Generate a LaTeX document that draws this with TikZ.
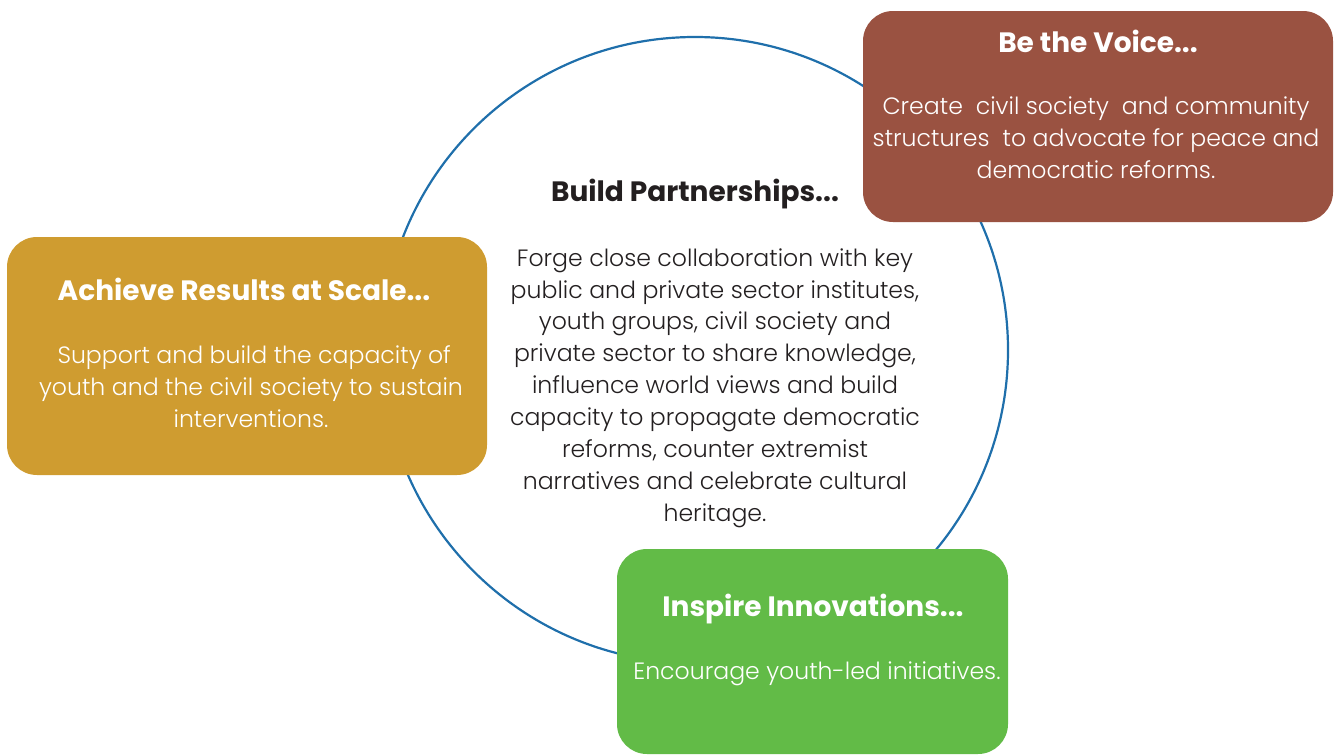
\documentclass[tikz,border=0pt]{standalone}
\usepackage{fontspec}
\setmainfont{Poppins}
\newfontfamily\bodyfont{Poppins}[UprightFont=* Light]
\definecolor{ringblue}{RGB}{31,111,171}
\definecolor{voicebrown}{RGB}{154,82,65}
\definecolor{scalegold}{RGB}{207,156,48}
\definecolor{innogreen}{RGB}{98,187,71}
\definecolor{inkdark}{RGB}{35,31,32}
\begin{document}
\begin{tikzpicture}[x=1pt,y=-1pt,
  card/.style={rounded corners=30pt, inner sep=0pt, draw=none},
  ttl/.style={font=\fontsize{28}{33}\selectfont\bfseries, inner sep=0pt},
  bodytxt/.style={font=\bodyfont\fontsize{23.6}{31.9}\selectfont, align=center, inner sep=0pt}]
\useasboundingbox (0,0) rectangle (1338,755);
\node[draw=ringblue, line width=2.2pt, circle, minimum size=626pt, inner sep=0pt] (ring) at (695,350) {};
\node[card, fill=voicebrown, minimum width=470pt, minimum height=211pt] (voice) at (1098,116.5) {};
\node[card, fill=scalegold, minimum width=480pt, minimum height=238pt] (scale) at (247,356) {};
\node[card, fill=innogreen, minimum width=391pt, minimum height=205pt] (inno) at (812.5,651.5) {};
\node[ttl, text=inkdark] (bpt) at (695,194) {Build Partnerships...};
\node[bodytxt, text=inkdark] (bpb) at (715,388) {Forge close collaboration with key\\public and private sector institutes,\\youth groups, civil society and\\private sector to share knowledge,\\influence world views and build\\capacity to propagate democratic\\reforms, counter extremist\\narratives and celebrate cultural\\heritage.};
\node[ttl, text=white] (vt) at (1098,41) {Be the Voice...};
\node[bodytxt, text=white] (vb) at (1096,138) {Create\ \ civil society\ \ and community\\structures\ \ to advocate for peace and\\democratic reforms.};
\node[ttl, text=white] (st) at (244,289) {Achieve Results at Scale...};
\node[bodytxt, text=white] (sb) at (251,387) {\ Support and build the capacity of\\youth and the civil society to sustain\\interventions.};
\node[ttl, text=white] (it) at (813,609) {Inspire Innovations...};
\node[bodytxt, text=white] (ib) at (817,674) {Encourage youth-led initiatives.};
\end{tikzpicture}
\end{document}
